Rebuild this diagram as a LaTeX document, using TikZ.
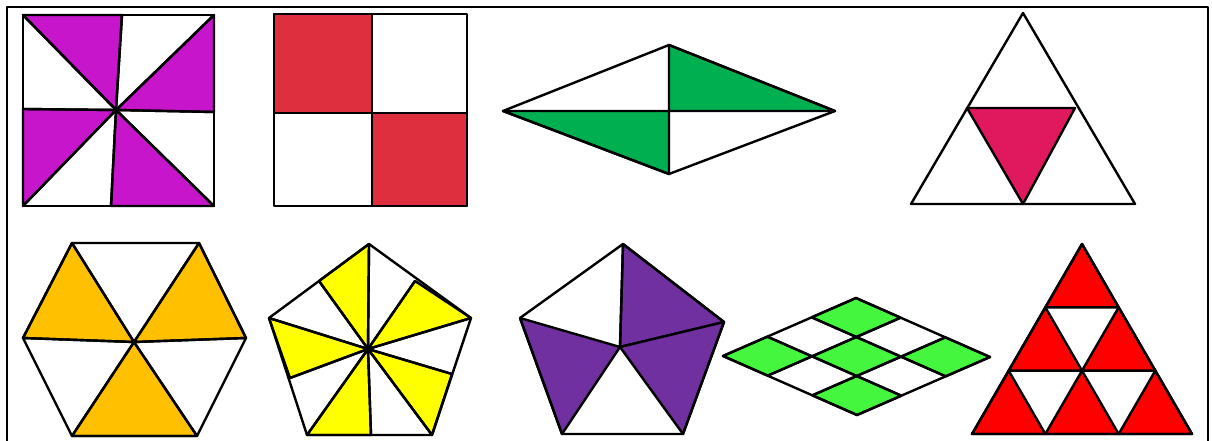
\documentclass[tikz,border=0pt]{standalone}
\usepackage{amsmath}
\usepackage{tikz}

\definecolor{pinmagenta}{RGB}{199,21,204}
\definecolor{quadred}{RGB}{221,47,61}
\definecolor{kitegreen}{RGB}{0,176,80}
\definecolor{tripink}{RGB}{224,25,95}
\definecolor{hexamber}{RGB}{255,192,0}
\definecolor{pentyellow}{RGB}{255,255,0}
\definecolor{pentpurple}{RGB}{112,48,160}
\definecolor{gridgreen}{RGB}{68,246,61}
\definecolor{sierred}{RGB}{255,0,0}

\begin{document}
\begin{tikzpicture}[x=1pt, y=-1pt, line width=2.4pt, line join=round]
    \useasboundingbox (0,0) rectangle (1212,441);

    % Outer frame
    \draw[line width=2pt] (7,441) -- (7,7) -- (1208,7) -- (1208,441);

    % Pinwheel square
    \filldraw[fill=pinmagenta] (23,15) -- (122,15) -- (116,110) -- cycle;
    \filldraw[fill=pinmagenta] (214,15) -- (116,110) -- (214,112) -- cycle;
    \filldraw[fill=pinmagenta] (23,109) -- (116,110) -- (23,206) -- cycle;
    \filldraw[fill=pinmagenta] (111,206) -- (116,110) -- (214,206) -- cycle;
    \draw (23,15) rectangle (214,206);
    \draw (23,15) -- (116,110) -- (214,206);
    \draw (214,15) -- (116,110) -- (23,206);
    \draw (122,15) -- (116,110) -- (111,206);
    \draw (23,109) -- (116,110) -- (214,112);

    % Square in quarters
    \filldraw[fill=quadred] (274,14) rectangle (372,113);
    \filldraw[fill=quadred] (372,113) rectangle (467,206);
    \draw (274,14) rectangle (467,206);
    \draw (372,14) -- (372,206);
    \draw (274,113) -- (467,113);

    % Rhombus in four
    \filldraw[fill=kitegreen] (669,45) -- (835,111) -- (669,111) -- cycle;
    \filldraw[fill=kitegreen] (503,111) -- (669,111) -- (669,174) -- cycle;
    \draw (503,111) -- (669,45) -- (835,111) -- (669,174) -- cycle;
    \draw (503,111) -- (835,111);
    \draw (669,45) -- (669,174);

    % Triangle with middle piece
    \draw (1023,13) -- (911,204) -- (1135,204) -- cycle;
    \filldraw[fill=tripink] (967,108) -- (1075,108) -- (1023,204) -- cycle;

    % Hexagon
    \filldraw[fill=hexamber] (72,243) -- (23,338) -- (134,342) -- cycle;
    \filldraw[fill=hexamber] (199,243) -- (134,342) -- (246,338) -- cycle;
    \filldraw[fill=hexamber] (72,436) -- (134,342) -- (197,436) -- cycle;
    \draw (72,243) -- (199,243) -- (246,338) -- (197,436) -- (72,436) -- (23,338) -- cycle;
    \draw (72,243) -- (134,342) -- (197,436);
    \draw (199,243) -- (134,342) -- (72,436);
    \draw (23,338) -- (134,342) -- (246,338);

    % Pentagon in ten
    \filldraw[fill=pentyellow] (319,281) -- (369,244) -- (368,349) -- cycle;
    \filldraw[fill=pentyellow] (415,281) -- (471,318) -- (368,349) -- cycle;
    \filldraw[fill=pentyellow] (452,374) -- (432,435) -- (368,349) -- cycle;
    \filldraw[fill=pentyellow] (371,435) -- (307,435) -- (368,349) -- cycle;
    \filldraw[fill=pentyellow] (290,378) -- (269,318) -- (368,349) -- cycle;
    \draw (369,244) -- (471,318) -- (432,435) -- (307,435) -- (269,318) -- cycle;
    \draw (369,244) -- (368,349) -- (371,435);
    \draw (319,281) -- (368,349) -- (432,435);
    \draw (415,281) -- (368,349) -- (307,435);
    \draw (471,318) -- (368,349) -- (290,378);
    \draw (269,318) -- (368,349) -- (452,374);

    % Pentagon in five
    \filldraw[fill=pentpurple] (623,244) -- (724,322) -- (620,347) -- cycle;
    \filldraw[fill=pentpurple] (724,322) -- (683,434) -- (620,347) -- cycle;
    \filldraw[fill=pentpurple] (520,318) -- (620,347) -- (562,434) -- cycle;
    \draw (623,244) -- (724,322) -- (683,434) -- (562,434) -- (520,318) -- cycle;
    \draw (623,244) -- (620,347);

    % Rhombus grid
    \begin{scope}[shift={(723,356)}, x={(44.33pt,19.33pt)}, y={(44.67pt,-19.67pt)}]
        \filldraw[fill=gridgreen] (0,0) -- (1,0) -- (1,1) -- (0,1) -- cycle;
        \filldraw[fill=gridgreen] (2,0) -- (3,0) -- (3,1) -- (2,1) -- cycle;
        \filldraw[fill=gridgreen] (1,1) -- (2,1) -- (2,2) -- (1,2) -- cycle;
        \filldraw[fill=gridgreen] (0,2) -- (1,2) -- (1,3) -- (0,3) -- cycle;
        \filldraw[fill=gridgreen] (2,2) -- (3,2) -- (3,3) -- (2,3) -- cycle;
        \draw (0,0) -- (3,0) -- (3,3) -- (0,3) -- cycle;
        \draw (1,0) -- (1,3);
        \draw (2,0) -- (2,3);
        \draw (0,1) -- (3,1);
        \draw (0,2) -- (3,2);
    \end{scope}

    % Triangle in nine
    \filldraw[fill=sierred] (1082,244) -- (1045.33,307.33) -- (1118.67,307.33) -- cycle;
    \filldraw[fill=sierred] (1045.33,307.33) -- (1008.67,370.67) -- (1082,370.67) -- cycle;
    \filldraw[fill=sierred] (1118.67,307.33) -- (1082,370.67) -- (1155.33,370.67) -- cycle;
    \filldraw[fill=sierred] (1008.67,370.67) -- (972,434) -- (1045.33,434) -- cycle;
    \filldraw[fill=sierred] (1082,370.67) -- (1045.33,434) -- (1118.67,434) -- cycle;
    \filldraw[fill=sierred] (1155.33,370.67) -- (1118.67,434) -- (1192,434) -- cycle;
    \draw (1082,244) -- (972,434) -- (1192,434) -- cycle;
\end{tikzpicture}
\end{document}
